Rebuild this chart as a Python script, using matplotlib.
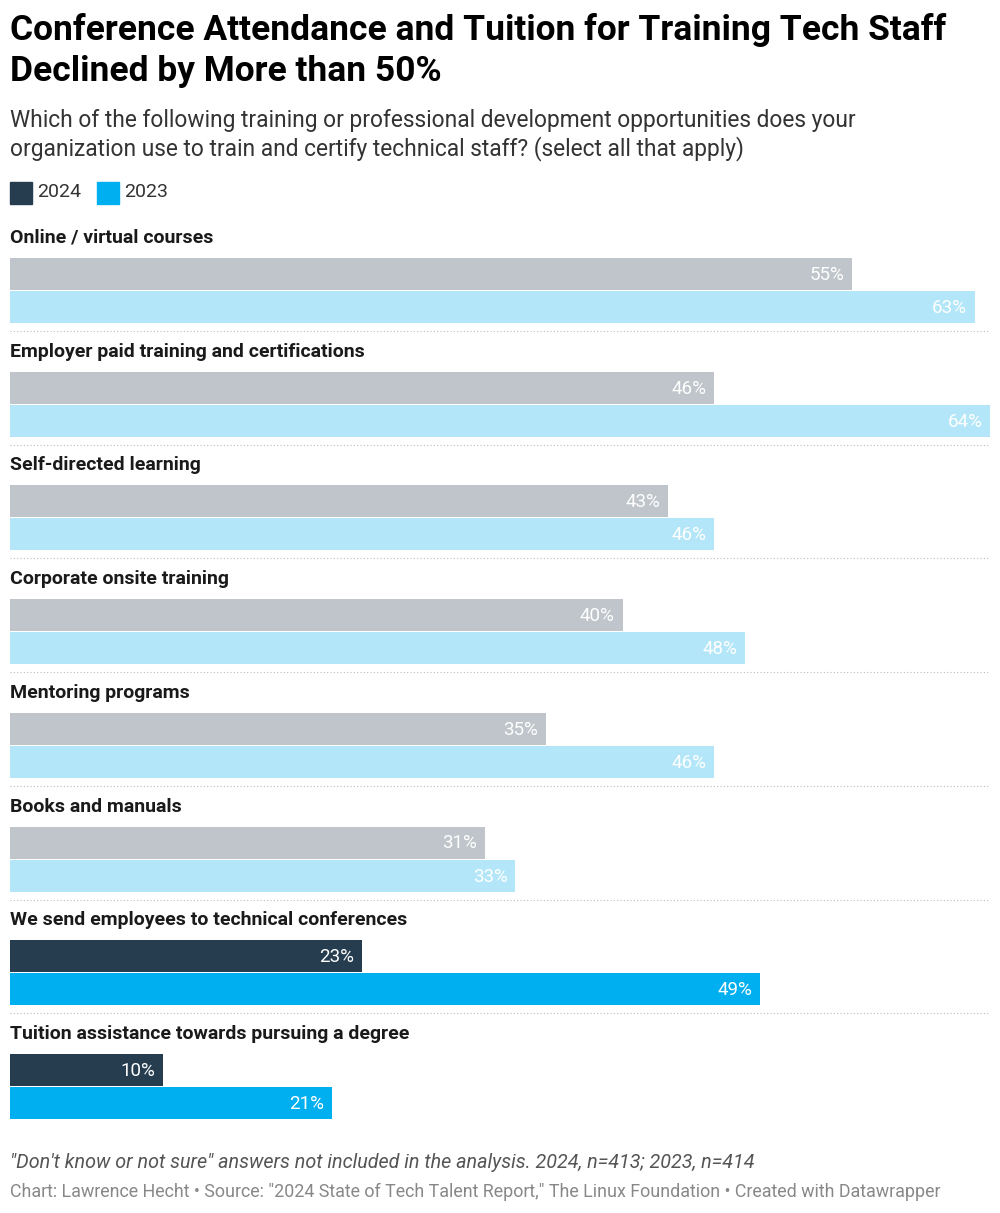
import matplotlib.pyplot as plt

plt.rcParams['font.family'] = ['Roboto', 'DejaVu Sans']

categories = ["Online / virtual courses", "Employer paid training and certifications",
              "Self-directed learning", "Corporate onsite training", "Mentoring programs",
              "Books and manuals", "We send employees to technical conferences",
              "Tuition assistance towards pursuing a degree"]
v2024 = [55, 46, 43, 40, 35, 31, 23, 10]
v2023 = [63, 64, 46, 48, 46, 33, 49, 21]
highlight = [False] * 6 + [True, True]

fig = plt.figure(figsize=(10, 12.13), dpi=100)
ax = fig.add_axes([0.01, 0, 0.98, 1])
ax.set_xlim(0, 64)
ax.set_ylim(1213, 0)
ax.axis('off')

pitch = 113.7
for i, cat in enumerate(categories):
    base = 238 + pitch * i
    c1 = '#263d4f' if highlight[i] else '#bfc5ca'
    c2 = '#00aff0' if highlight[i] else '#b3e6f8'
    ax.text(0, base, cat, fontsize=14, fontweight='bold', color='#1a1a1a', va='center')
    ax.barh(base + 36, v2024[i], height=32, color=c1, left=0)
    ax.barh(base + 69, v2023[i], height=32, color=c2, left=0)
    ax.text(v2024[i] - 0.5, base + 37, f"{v2024[i]}%", ha='right', va='center', color='white', fontsize=13.5)
    ax.text(v2023[i] - 0.5, base + 70, f"{v2023[i]}%", ha='right', va='center', color='white', fontsize=13.5)
    if i < len(categories) - 1:
        ax.plot([0, 64], [base + 93, base + 93], ls=(0, (1, 2)), color='#bbbbbb', lw=0.8)

fig.text(0.01, 1 - 30 / 1213, "Conference Attendance and Tuition for Training Tech Staff",
         fontsize=25.5, fontweight='bold', va='center')
fig.text(0.01, 1 - 72 / 1213, "Declined by More than 50%", fontsize=25.5, fontweight='bold', va='center')
fig.text(0.01, 1 - 121 / 1213, "Which of the following training or professional development opportunities does your",
         fontsize=16.4, color='#333333', va='center')
fig.text(0.01, 1 - 149 / 1213, "organization use to train and certify technical staff? (select all that apply)",
         fontsize=16.4, color='#333333', va='center')
# legend
fig.patches.append(plt.Rectangle((10 / 1000, 1 - 204 / 1213), 22 / 1000, 22 / 1213,
                                 transform=fig.transFigure, color='#263d4f'))
fig.text(37 / 1000, 1 - 192 / 1213, "2024", fontsize=14, color='#333333', va='center')
fig.patches.append(plt.Rectangle((97 / 1000, 1 - 204 / 1213), 22 / 1000, 22 / 1213,
                                 transform=fig.transFigure, color='#00aff0'))
fig.text(124 / 1000, 1 - 192 / 1213, "2023", fontsize=14, color='#333333', va='center')

fig.text(0.01, 1 - 1163 / 1213,
         "\"Don't know or not sure\" answers not included in the analysis. 2024, n=413; 2023, n=414",
         fontsize=14.2, style='italic', color='#555555', va='center')
fig.text(0.01, 1 - 1192 / 1213,
         "Chart: Lawrence Hecht • Source: \"2024 State of Tech Talent Report,\" The Linux Foundation • Created with Datawrapper",
         fontsize=12.9, color='#888888', va='center')

fig.savefig('out.png', dpi=100)
